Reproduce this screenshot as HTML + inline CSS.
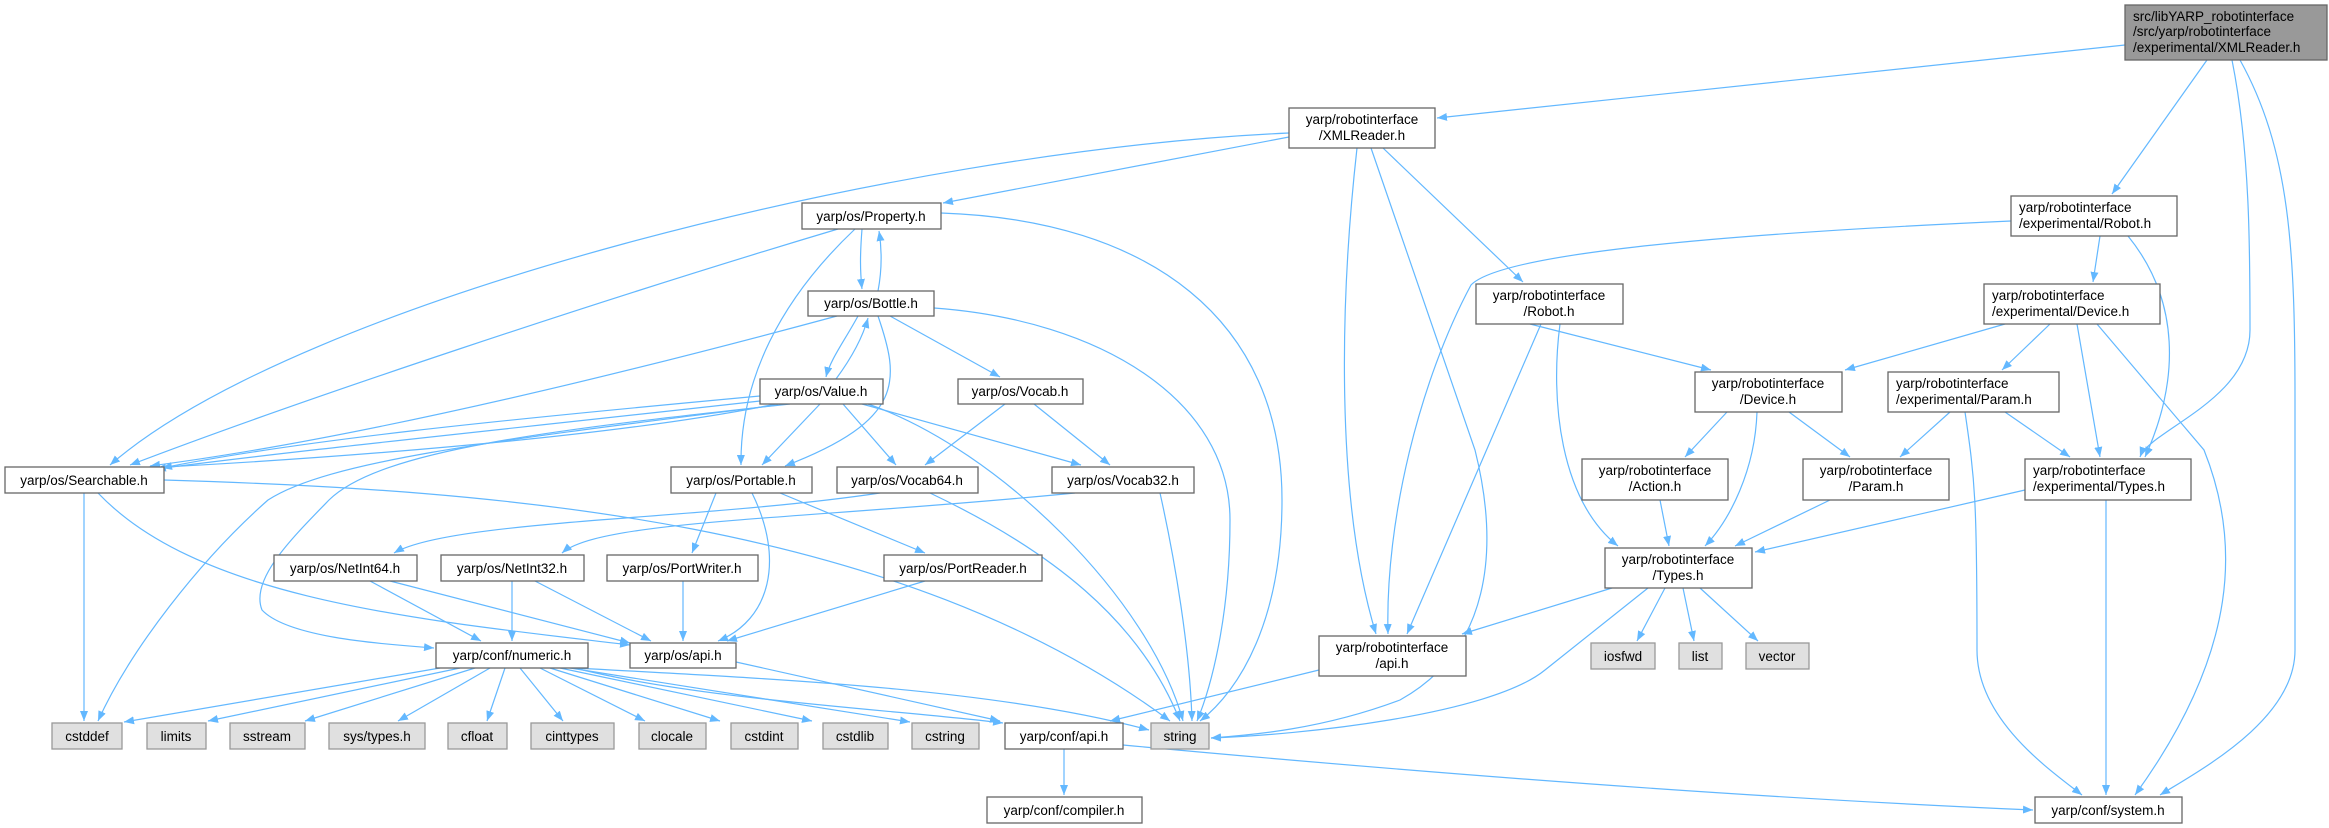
<!DOCTYPE html>
<html><head><meta charset="utf-8"><style>
html,body{margin:0;padding:0;background:#fff;}
svg{display:block;}
text{font-family:"Liberation Sans","DejaVu Sans",sans-serif;font-size:13.5px;fill:#000;}
.n{fill:#fff;stroke:#666;stroke-width:1.3;}
.l{fill:#e0e0e0;stroke:#999;stroke-width:1.3;}
.r{fill:#999;stroke:#666;stroke-width:1.3;}
.e path{fill:none;stroke:#63b8ff;stroke-width:1.2;marker-end:url(#a);}
</style></head><body>
<svg width="2329" height="828" viewBox="0 0 2329 828" xmlns="http://www.w3.org/2000/svg">
<defs><marker id="a" markerUnits="userSpaceOnUse" markerWidth="11" markerHeight="8" refX="10" refY="4" orient="auto"><path d="M0,0 L10,4 L0,8 z" fill="#63b8ff"/></marker></defs>
<g class="e">
<path d="M2125,45 L1437,118"/>
<path d="M2207,60 L2112,194"/>
<path d="M2232,60 C2250,150 2250,250 2250,330 C2250,400 2150,430 2140,457"/>
<path d="M2240,60 C2290,150 2295,250 2295,400 L2295,650 C2295,720 2200,770 2160,795"/>
<path d="M1289,133 C900,150 300,300 110,465"/>
<path d="M1289,137 L943,203"/>
<path d="M1357,148 C1340,300 1335,500 1376,634"/>
<path d="M1371,148 L1475,450 C1500,550 1490,650 1400,700 C1320,730 1250,735 1211,738"/>
<path d="M1383,148 L1523,282"/>
<path d="M862,229 C860,255 860,270 862,289"/>
<path d="M878,291 C882,270 882,250 879,231"/>
<path d="M838,229 C600,300 300,400 130,465"/>
<path d="M855,229 C780,300 740,380 741,465"/>
<path d="M941,213 C1150,220 1282,320 1282,500 C1282,620 1240,690 1200,721"/>
<path d="M858,316 C845,340 830,360 826,377"/>
<path d="M836,379 C850,360 862,340 868,318"/>
<path d="M837,316 C600,380 350,440 150,466"/>
<path d="M878,316 C900,380 905,420 785,466"/>
<path d="M890,316 L1000,377"/>
<path d="M934,308 C1100,320 1230,400 1230,520 C1230,620 1210,690 1197,721"/>
<path d="M760,396 C500,420 300,440 162,468"/>
<path d="M760,401 C500,430 300,450 156,469"/>
<path d="M776,404 C600,440 300,460 146,468"/>
<path d="M778,405 C500,440 330,460 268,500 C200,560 130,650 98,721"/>
<path d="M790,404 C550,430 380,450 329,500 C290,540 250,580 262,610 C290,640 400,645 434,648"/>
<path d="M820,404 L762,465"/>
<path d="M843,404 L896,465"/>
<path d="M862,404 L1081,465"/>
<path d="M868,404 C1000,450 1150,600 1183,721"/>
<path d="M1005,404 L925,465"/>
<path d="M1034,404 L1110,465"/>
<path d="M84,493 L84,721"/>
<path d="M98,493 C200,600 420,620 630,645"/>
<path d="M164,480 C500,490 900,520 1170,721"/>
<path d="M752,493 C785,560 770,620 718,641"/>
<path d="M716,493 L692,553"/>
<path d="M780,493 L925,553"/>
<path d="M880,493 C700,520 450,520 394,553"/>
<path d="M930,493 C1050,550 1140,620 1180,721"/>
<path d="M1075,493 C800,520 600,520 562,553"/>
<path d="M1160,493 C1175,560 1190,650 1192,721"/>
<path d="M370,581 L481,641"/>
<path d="M390,581 L630,643"/>
<path d="M512,581 L512,641"/>
<path d="M535,581 L651,641"/>
<path d="M683,581 L683,641"/>
<path d="M925,581 L727,641"/>
<path d="M440,668 L124,722"/>
<path d="M460,668 L208,721"/>
<path d="M475,668 L305,721"/>
<path d="M490,668 L398,721"/>
<path d="M505,668 L487,721"/>
<path d="M520,668 L563,721"/>
<path d="M540,668 L645,721"/>
<path d="M550,668 L720,721"/>
<path d="M560,668 L812,721"/>
<path d="M570,668 L910,722"/>
<path d="M575,668 C700,700 900,710 1003,723"/>
<path d="M575,668 C800,680 1000,690 1149,730"/>
<path d="M736,662 L1000,721"/>
<path d="M1064,749 L1064,795"/>
<path d="M1123,745 C1500,780 1800,800 2033,810"/>
<path d="M1319,670 L1110,721"/>
<path d="M1612,588 L1462,634"/>
<path d="M1648,588 L1545,670 C1490,715 1300,735 1211,738"/>
<path d="M1665,588 L1637,641"/>
<path d="M1683,588 L1694,641"/>
<path d="M1700,588 L1758,641"/>
<path d="M1530,324 L1711,370"/>
<path d="M1560,324 C1550,400 1560,500 1618,546"/>
<path d="M1541,324 L1407,634"/>
<path d="M1727,412 L1685,457"/>
<path d="M1757,412 C1755,470 1730,520 1705,546"/>
<path d="M1789,412 L1850,457"/>
<path d="M2100,236 L2093,282"/>
<path d="M2128,236 C2180,300 2180,380 2145,457"/>
<path d="M2011,221 C1700,235 1500,255 1471,285 C1420,380 1385,520 1388,634"/>
<path d="M2005,324 L1845,370"/>
<path d="M2050,324 L2002,370"/>
<path d="M2077,324 L2100,457"/>
<path d="M2097,324 L2204,450 C2240,540 2240,650 2135,795"/>
<path d="M1950,412 L1900,457"/>
<path d="M2005,412 L2070,457"/>
<path d="M1965,412 C1975,480 1977,500 1977,650 C1977,720 2050,770 2082,795"/>
<path d="M1830,500 L1735,546"/>
<path d="M1660,500 L1669,546"/>
<path d="M2025,490 L1755,552"/>
<path d="M2106,500 L2106,795"/>
</g>
<g>
<rect class="r" x="2125" y="5" width="202" height="55"/>
<text x="2133" y="21">src/libYARP_robotinterface</text>
<text x="2133" y="36">/src/yarp/robotinterface</text>
<text x="2133" y="52">/experimental/XMLReader.h</text>

<rect class="n" x="1289" y="108" width="146" height="40"/>
<text x="1362" y="124" text-anchor="middle">yarp/robotinterface</text>
<text x="1362" y="140" text-anchor="middle">/XMLReader.h</text>

<rect class="n" x="2011" y="196" width="166" height="40"/>
<text x="2019" y="212">yarp/robotinterface</text>
<text x="2019" y="228">/experimental/Robot.h</text>

<rect class="n" x="1476" y="284" width="147" height="40"/>
<text x="1549" y="300" text-anchor="middle">yarp/robotinterface</text>
<text x="1549" y="316" text-anchor="middle">/Robot.h</text>

<rect class="n" x="1984" y="284" width="176" height="40"/>
<text x="1992" y="300">yarp/robotinterface</text>
<text x="1992" y="316">/experimental/Device.h</text>

<rect class="n" x="1695" y="372" width="147" height="40"/>
<text x="1768" y="388" text-anchor="middle">yarp/robotinterface</text>
<text x="1768" y="404" text-anchor="middle">/Device.h</text>

<rect class="n" x="1888" y="372" width="171" height="40"/>
<text x="1896" y="388">yarp/robotinterface</text>
<text x="1896" y="404">/experimental/Param.h</text>

<rect class="n" x="1582" y="459" width="146" height="41"/>
<text x="1655" y="475" text-anchor="middle">yarp/robotinterface</text>
<text x="1655" y="491" text-anchor="middle">/Action.h</text>

<rect class="n" x="1803" y="459" width="146" height="41"/>
<text x="1876" y="475" text-anchor="middle">yarp/robotinterface</text>
<text x="1876" y="491" text-anchor="middle">/Param.h</text>

<rect class="n" x="2025" y="459" width="166" height="41"/>
<text x="2033" y="475">yarp/robotinterface</text>
<text x="2033" y="491">/experimental/Types.h</text>

<rect class="n" x="1605" y="548" width="147" height="40"/>
<text x="1678" y="564" text-anchor="middle">yarp/robotinterface</text>
<text x="1678" y="580" text-anchor="middle">/Types.h</text>

<rect class="n" x="1319" y="636" width="147" height="40"/>
<text x="1392" y="652" text-anchor="middle">yarp/robotinterface</text>
<text x="1392" y="668" text-anchor="middle">/api.h</text>

<rect class="n" x="802" y="203" width="139" height="26"/><text x="871" y="221" text-anchor="middle">yarp/os/Property.h</text>
<rect class="n" x="808" y="291" width="126" height="25"/><text x="871" y="308" text-anchor="middle">yarp/os/Bottle.h</text>
<rect class="n" x="760" y="379" width="123" height="25"/><text x="821" y="396" text-anchor="middle">yarp/os/Value.h</text>
<rect class="n" x="958" y="379" width="125" height="25"/><text x="1020" y="396" text-anchor="middle">yarp/os/Vocab.h</text>
<rect class="n" x="5" y="467" width="159" height="26"/><text x="84" y="485" text-anchor="middle">yarp/os/Searchable.h</text>
<rect class="n" x="671" y="467" width="141" height="26"/><text x="741" y="485" text-anchor="middle">yarp/os/Portable.h</text>
<rect class="n" x="837" y="467" width="141" height="26"/><text x="907" y="485" text-anchor="middle">yarp/os/Vocab64.h</text>
<rect class="n" x="1052" y="467" width="142" height="26"/><text x="1123" y="485" text-anchor="middle">yarp/os/Vocab32.h</text>
<rect class="n" x="274" y="555" width="143" height="26"/><text x="345" y="573" text-anchor="middle">yarp/os/NetInt64.h</text>
<rect class="n" x="441" y="555" width="143" height="26"/><text x="512" y="573" text-anchor="middle">yarp/os/NetInt32.h</text>
<rect class="n" x="607" y="555" width="151" height="26"/><text x="682" y="573" text-anchor="middle">yarp/os/PortWriter.h</text>
<rect class="n" x="884" y="555" width="158" height="26"/><text x="963" y="573" text-anchor="middle">yarp/os/PortReader.h</text>
<rect class="n" x="436" y="643" width="152" height="25"/><text x="512" y="660" text-anchor="middle">yarp/conf/numeric.h</text>
<rect class="n" x="630" y="643" width="106" height="25"/><text x="683" y="660" text-anchor="middle">yarp/os/api.h</text>

<rect class="l" x="52" y="723" width="70" height="26"/><text x="87" y="741" text-anchor="middle">cstddef</text>
<rect class="l" x="147" y="723" width="59" height="26"/><text x="176" y="741" text-anchor="middle">limits</text>
<rect class="l" x="230" y="723" width="75" height="26"/><text x="267" y="741" text-anchor="middle">sstream</text>
<rect class="l" x="329" y="723" width="96" height="26"/><text x="377" y="741" text-anchor="middle">sys/types.h</text>
<rect class="l" x="448" y="723" width="59" height="26"/><text x="477" y="741" text-anchor="middle">cfloat</text>
<rect class="l" x="531" y="723" width="83" height="26"/><text x="572" y="741" text-anchor="middle">cinttypes</text>
<rect class="l" x="639" y="723" width="67" height="26"/><text x="672" y="741" text-anchor="middle">clocale</text>
<rect class="l" x="731" y="723" width="67" height="26"/><text x="764" y="741" text-anchor="middle">cstdint</text>
<rect class="l" x="823" y="723" width="65" height="26"/><text x="855" y="741" text-anchor="middle">cstdlib</text>
<rect class="l" x="912" y="723" width="67" height="26"/><text x="945" y="741" text-anchor="middle">cstring</text>
<rect class="n" x="1005" y="723" width="118" height="26"/><text x="1064" y="741" text-anchor="middle">yarp/conf/api.h</text>
<rect class="l" x="1151" y="723" width="58" height="26"/><text x="1180" y="741" text-anchor="middle">string</text>
<rect class="l" x="1591" y="643" width="64" height="26"/><text x="1623" y="661" text-anchor="middle">iosfwd</text>
<rect class="l" x="1679" y="643" width="43" height="26"/><text x="1700" y="661" text-anchor="middle">list</text>
<rect class="l" x="1746" y="643" width="63" height="26"/><text x="1777" y="661" text-anchor="middle">vector</text>
<rect class="n" x="987" y="797" width="155" height="26"/><text x="1064" y="815" text-anchor="middle">yarp/conf/compiler.h</text>
<rect class="n" x="2035" y="797" width="147" height="26"/><text x="2108" y="815" text-anchor="middle">yarp/conf/system.h</text>
</g>
</svg>
</body></html>
